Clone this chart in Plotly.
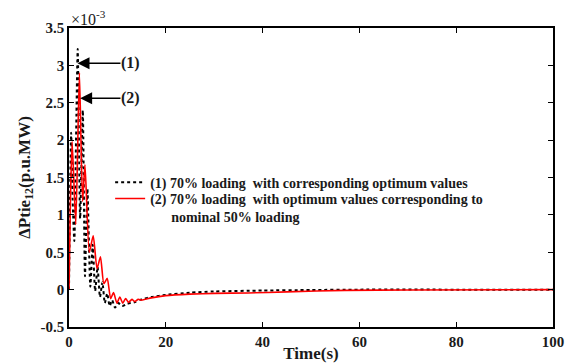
import plotly.graph_objects as go

# Time axis ticks
x_ticks = [0, 20, 40, 60, 80, 100]
y_tickvals = [3.5, 3, 2.5, 2, 1.5, 1, 0.5, 0, -0.5]
y_ticktext = ["3.5", "3", "2.5", "2", "1.5", "1", "0.5", "0", "-0.5"]

# Series (1): 70% loading with corresponding optimum values (x1e-3)
t1 = [0, 0.2, 0.45, 0.75, 1.1, 1.45, 1.8, 2.3, 2.85, 3.3, 3.8, 4.4, 4.9, 5.4,
      5.9, 6.4, 6.9, 7.4, 7.9, 8.4, 8.9, 9.5, 10.2, 11, 12, 13.5, 15, 17, 20,
      25, 30, 40, 50, 60, 80, 100]
y1 = [0, 1.2, 2.1, 1.2, 0.65, 2.0, 3.22, 0.95, 2.4, 0.18, 1.35, 0.04, 0.6, -0.02,
      0.3, -0.1, 0.1, -0.18, -0.05, -0.22, -0.14, -0.24, -0.18, -0.22, -0.19, -0.17,
      -0.13, -0.1, -0.07, -0.04, -0.025, -0.012, -0.005, 0, 0, 0]

# Series (2): 70% loading with optimum values corresponding to nominal 50% loading
t2 = [0, 0.3, 0.65, 1.4, 2.15, 2.8, 3.3, 4.2, 5.0, 5.8, 6.5, 7.2, 7.9, 8.6, 9.2,
      9.9, 10.5, 11.1, 11.7, 12.3, 13, 13.6, 14.3, 15, 17, 20, 25, 30, 37, 45,
      57, 70, 100]
y2 = [0, 1.2, 1.98, 0.87, 2.9, 1.18, 1.67, 0.5, 0.72, 0.28, 0.44, 0.08, 0.15, -0.12,
      -0.04, -0.18, -0.1, -0.18, -0.12, -0.17, -0.13, -0.16, -0.13, -0.14, -0.11,
      -0.08, -0.06, -0.05, -0.045, -0.03, -0.01, -0.005, 0]

name1 = "(1) 70% loading  with corresponding optimum values"
name2 = "(2) 70% loading  with optimum values corresponding to"
name2_cont = "nominal 50% loading"

FONT = "Liberation Serif"
TXT = "#1a1a1a"
LEG_SIZE = 14
INDENT = "\u00a0" * 6

fig = go.Figure()
fig.add_trace(go.Scatter(x=t1, y=y1, mode="lines", name="<b>%s</b>" % name1,
                         legend="legend",
                         line=dict(color="black", width=2, dash="dot",
                                   shape="spline", smoothing=0.6)))
fig.add_trace(go.Scatter(x=t2, y=y2, mode="lines",
                         name="<b>%s<br>%s%s</b>" % (name2, INDENT, name2_cont),
                         legend="legend2",
                         line=dict(color="red", width=1.6,
                                   shape="spline", smoothing=0.6)))

axis_common = dict(showline=True, linecolor="black", linewidth=1.5, mirror="ticks",
                   ticks="inside", ticklen=5, tickwidth=1.2, tickcolor="black",
                   showgrid=False, zeroline=False, automargin=False,
                   tickfont=dict(family=FONT, size=15, color=TXT))

fig.update_xaxes(range=[0, 100], tickvals=x_ticks,
                 ticktext=["<b>%d</b>" % v for v in x_ticks], ticklabeloverflow="allow",
                 title=dict(text="<b>Time(s)</b>", font=dict(family=FONT, size=17, color=TXT),
                            standoff=0),
                 **axis_common)
fig.update_yaxes(range=[-0.5, 3.5], tickvals=y_tickvals,
                 ticktext=["<b>%s</b>" % s for s in y_ticktext],
                 title=dict(text="<b>\u0394Ptie<sub>12</sub>(p.u.MW)</b>",
                            font=dict(family=FONT, size=17, color=TXT), standoff=6),
                 **axis_common)

# exponent label
fig.add_annotation(xref="paper", yref="paper", x=0.0, y=1.0, xanchor="left", yanchor="bottom",
                   text="\u00d710<sup>-3</sup>", showarrow=False,
                   font=dict(family=FONT, size=16, color=TXT), yshift=-2)

# arrows pointing at peaks, with labels at the tail
for (xh, yh, label) in [(1.75, 3.03, "(1)"), (2.3, 2.56, "(2)")]:
    fig.add_annotation(x=xh, y=yh, ax=12.7, ay=yh, axref="x", ayref="y",
                       xref="x", yref="y", text="<b>%s</b>" % label, showarrow=True,
                       arrowhead=2, arrowsize=1.6, arrowwidth=1.5, arrowcolor="black",
                       standoff=0, borderpad=0,
                       font=dict(family=FONT, size=16, color=TXT))

leg_common = dict(x=0.085, xanchor="left", yanchor="top",
                  bgcolor="rgba(0,0,0,0)", borderwidth=0, valign="top",
                  font=dict(family=FONT, size=LEG_SIZE, color=TXT), itemwidth=30)

fig.update_layout(
    width=567, height=363,
    margin=dict(l=69, r=14, t=28, b=36),
    paper_bgcolor="white", plot_bgcolor="white",
    showlegend=True,
    legend=dict(y=0.536, **leg_common),
    legend2=dict(y=0.482, **leg_common),
)

fig.write_html("out.html")
